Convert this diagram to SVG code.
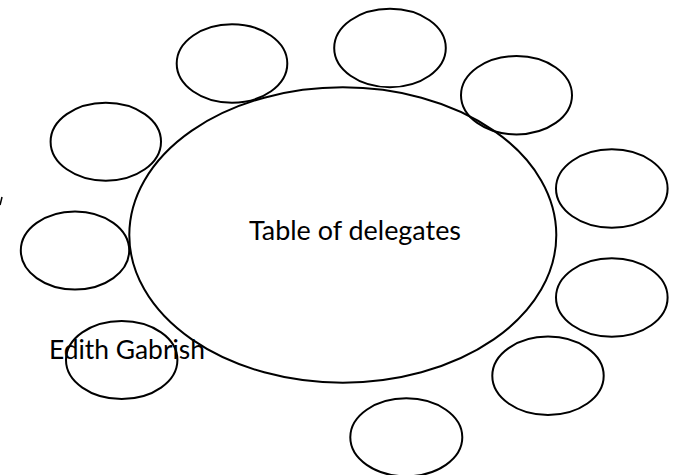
<svg xmlns="http://www.w3.org/2000/svg" width="674" height="475" viewBox="0 0 674 475">
<style>
.seat{fill:none;stroke:#000;stroke-width:2}
.tbl{fill:none;stroke:#000;stroke-width:2}
.lbl{font-family:Lato,"Liberation Sans",sans-serif;font-size:27.5px;fill:#000}
</style>
<rect width="674" height="475" fill="#fff"/>
<g id="table">
<ellipse class="tbl" cx="342.8" cy="235" rx="213.5" ry="147.7"/>
<text class="lbl" x="249" y="239.5" textLength="212" lengthAdjust="spacingAndGlyphs">Table of delegates</text>
</g>
<g id="seat1"><ellipse class="seat" cx="232" cy="63.5" rx="55.3" ry="39.2"/></g>
<g id="seat2"><ellipse class="seat" cx="390" cy="48" rx="55.8" ry="39.2"/></g>
<g id="seat3"><ellipse class="seat" cx="516.5" cy="95.2" rx="55.5" ry="39.2"/></g>
<g id="seat4"><ellipse class="seat" cx="611.8" cy="188.5" rx="55.8" ry="39.2"/></g>
<g id="seat5"><ellipse class="seat" cx="611.8" cy="297.5" rx="55.8" ry="39.2"/></g>
<g id="seat6"><ellipse class="seat" cx="548" cy="375.8" rx="55.7" ry="39.2"/></g>
<g id="seat7"><ellipse class="seat" cx="406.3" cy="437.3" rx="56" ry="39"/></g>
<g id="seat8"><ellipse class="seat" cx="121.7" cy="360" rx="55.7" ry="39"/></g>
<g id="seat9"><ellipse class="seat" cx="75" cy="250.5" rx="54.2" ry="39"/></g>
<g id="seat10"><ellipse class="seat" cx="105.8" cy="141.7" rx="55.2" ry="39"/></g>
<g id="edith">
<text class="lbl" x="49" y="358.5" textLength="156" lengthAdjust="spacingAndGlyphs">Edith Gabrish</text>
</g>
<g id="connectors">
<line x1="0" y1="205" x2="2" y2="197" stroke="#000" stroke-width="1.5"/>
</g>
</svg>
